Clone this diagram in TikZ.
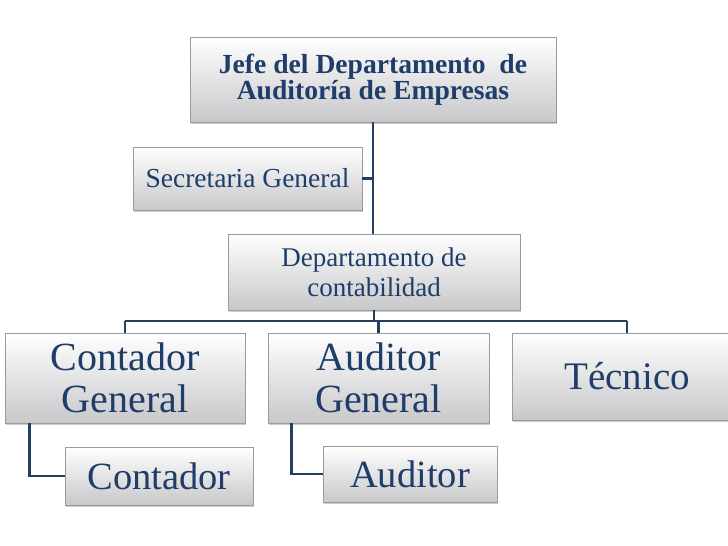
\documentclass[tikz,border=0pt]{standalone}
\usepackage{fontspec}
\setmainfont{Liberation Serif}
\usetikzlibrary{shadows}
\definecolor{txtblue}{RGB}{30,61,104}
\definecolor{lineblue}{RGB}{36,63,96}
\definecolor{boxbot}{RGB}{200,200,203}
\definecolor{boxedge}{RGB}{155,155,158}
\tikzset{
  orgbox/.style={rectangle, inner sep=0pt, align=center, text=txtblue,
    top color=white, bottom color=boxbot, draw=boxedge, line width=0.9pt,
    drop shadow={shadow xshift=1.2pt, shadow yshift=-1.8pt, opacity=0.4}},
  link/.style={draw=lineblue, line width=2.2pt},
}
\begin{document}
\begin{tikzpicture}[x=1pt,y=-1pt]
\clip (0,0) rectangle (728,546);
\fill[white] (0,0) rectangle (728,546);
% nodes
\node[orgbox, minimum width=366pt, minimum height=85pt,
  font={\fontsize{27.6}{25}\selectfont\bfseries}] (jefe) at (373,79.5)
  {Jefe del Departamento~ de\\Auditoría de Empresas};
\node[orgbox, minimum width=229pt, minimum height=63pt,
  font={\fontsize{27.5}{30}\selectfont}] (sec) at (247.5,178.5)
  {Secretaria General};
\node[orgbox, minimum width=292pt, minimum height=76pt,
  font={\fontsize{27}{30}\selectfont}] (dept) at (374,272)
  {Departamento de\\contabilidad};
\node[orgbox, minimum width=240pt, minimum height=90pt,
  font={\fontsize{40}{42}\selectfont}] (cg) at (125,378)
  {Contador\\General};
\node[orgbox, minimum width=221pt, minimum height=90pt,
  font={\fontsize{40}{42}\selectfont}] (ag) at (378.5,378)
  {Auditor\\General};
\node[orgbox, minimum width=230pt, minimum height=87pt,
  font={\fontsize{39}{42}\selectfont}] (tec) at (627,376.5)
  {Técnico};
\node[orgbox, minimum width=188pt, minimum height=58pt,
  font={\fontsize{38.5}{42}\selectfont}] (con) at (159,476)
  {Contador};
\node[orgbox, minimum width=174pt, minimum height=56pt,
  font={\fontsize{38.5}{42}\selectfont}] (aud) at (410,474)
  {Auditor};
% connectors
\coordinate (busL) at (125,321);
\coordinate (busR) at (627,321);
\path[link] (jefe.south) -- (jefe.south |- dept.north);
\path[link] (sec.east) -- (sec.east -| jefe.south);
\path[link] (dept.south) -- (dept.south |- busL);
\path[link] (busL) -- (busR);
\path[link] (cg.north) -- (cg.north |- busL);
\path[link] (ag.north) -- (ag.north |- busL);
\path[link] (tec.north) -- (tec.north |- busR);
\path[link] ([xshift=25pt]cg.south west) |- (con.west);
\path[link] ([xshift=24pt]ag.south west) |- (aud.west);
\end{tikzpicture}
\end{document}
